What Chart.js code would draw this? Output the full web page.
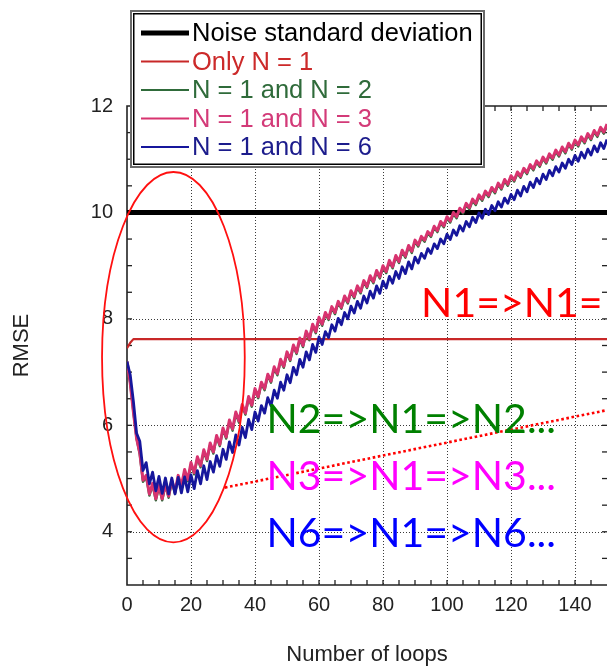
<!DOCTYPE html>
<html>
<head>
<meta charset="utf-8">
<script src="https://cdn.jsdelivr.net/npm/chart.js@4.4.1/dist/chart.umd.min.js"></script>
<style>
  html, body { margin: 0; padding: 0; background: #ffffff; }
  #wrap { width: 607px; height: 668px; position: relative; }
</style>
</head>
<body>
<div id="wrap"><canvas id="chart" width="607" height="668"></canvas></div>
<script>
// Loop index (x axis categories)
const loops = Array.from({ length: 151 }, (_, i) => i);

// RMSE per loop for each training schedule
const rmseN1N2 = [
  7.20, 6.80, 6.25, 5.75, 5.45, 4.94, 5.03, 4.68, 4.88, 4.59,
  4.84, 4.59, 4.87, 4.64, 4.94, 4.72, 5.03, 4.83, 5.14, 4.95,
  5.27, 5.08, 5.38, 5.21, 5.51, 5.33, 5.64, 5.47, 5.78, 5.61,
  5.92, 5.75, 6.07, 5.90, 6.22, 6.05, 6.36, 6.20, 6.51, 6.35,
  6.66, 6.51, 6.78, 6.66, 6.93, 6.80, 7.07, 6.94, 7.21, 7.08,
  7.35, 7.21, 7.48, 7.34, 7.61, 7.47, 7.74, 7.60, 7.87, 7.73,
  8.00, 7.87, 8.09, 7.98, 8.20, 8.09, 8.30, 8.19, 8.40, 8.29,
  8.50, 8.39, 8.59, 8.48, 8.69, 8.58, 8.78, 8.67, 8.88, 8.76,
  8.97, 8.86, 9.07, 8.95, 9.16, 9.05, 9.26, 9.15, 9.35, 9.24,
  9.45, 9.36, 9.52, 9.45, 9.61, 9.54, 9.71, 9.63, 9.80, 9.72,
  9.89, 9.81, 9.97, 9.89, 10.05, 9.98, 10.14, 10.06, 10.22, 10.14,
  10.30, 10.22, 10.37, 10.29, 10.44, 10.36, 10.52, 10.43, 10.59, 10.50,
  10.66, 10.58, 10.73, 10.65, 10.80, 10.72, 10.87, 10.79, 10.94, 10.86,
  11.01, 10.92, 11.07, 10.99, 11.14, 11.05, 11.20, 11.11, 11.27, 11.18,
  11.33, 11.24, 11.39, 11.30, 11.45, 11.36, 11.51, 11.42, 11.57, 11.48,
  11.63
];

const rmseN1N3 = [
  7.20, 6.80, 6.25, 5.75, 5.48, 4.97, 5.06, 4.71, 4.91, 4.62,
  4.87, 4.62, 4.90, 4.67, 4.97, 4.75, 5.06, 4.86, 5.17, 4.98,
  5.30, 5.11, 5.41, 5.24, 5.54, 5.36, 5.67, 5.50, 5.81, 5.64,
  5.95, 5.78, 6.10, 5.93, 6.25, 6.08, 6.39, 6.23, 6.54, 6.38,
  6.69, 6.54, 6.81, 6.69, 6.96, 6.83, 7.10, 6.97, 7.24, 7.11,
  7.38, 7.24, 7.51, 7.37, 7.64, 7.50, 7.77, 7.63, 7.90, 7.76,
  8.03, 7.90, 8.12, 8.01, 8.23, 8.12, 8.33, 8.22, 8.43, 8.32,
  8.53, 8.42, 8.62, 8.51, 8.72, 8.61, 8.81, 8.70, 8.91, 8.79,
  9.00, 8.89, 9.10, 8.98, 9.19, 9.08, 9.29, 9.18, 9.38, 9.27,
  9.48, 9.39, 9.55, 9.48, 9.64, 9.57, 9.74, 9.66, 9.83, 9.75,
  9.92, 9.84, 10.00, 9.92, 10.08, 10.01, 10.17, 10.09, 10.25, 10.17,
  10.33, 10.25, 10.40, 10.32, 10.47, 10.39, 10.55, 10.46, 10.62, 10.53,
  10.69, 10.61, 10.76, 10.68, 10.83, 10.75, 10.90, 10.82, 10.97, 10.89,
  11.04, 10.95, 11.10, 11.02, 11.17, 11.08, 11.23, 11.14, 11.30, 11.21,
  11.36, 11.27, 11.42, 11.33, 11.48, 11.39, 11.54, 11.45, 11.60, 11.51,
  11.66
];

const rmseN1N6 = [
  7.20, 6.95, 6.45, 5.85, 5.70, 5.15, 5.30, 4.90, 5.12, 4.77,
  5.04, 4.72, 5.01, 4.71, 5.01, 4.71, 5.02, 4.73, 5.03, 4.75,
  5.07, 4.81, 5.15, 4.90, 5.24, 4.98, 5.32, 5.12, 5.43, 5.23,
  5.55, 5.36, 5.69, 5.49, 5.82, 5.63, 5.96, 5.77, 6.11, 5.92,
  6.25, 6.08, 6.37, 6.23, 6.52, 6.37, 6.66, 6.51, 6.81, 6.66,
  6.95, 6.80, 7.09, 6.95, 7.24, 7.09, 7.38, 7.23, 7.52, 7.37,
  7.66, 7.52, 7.76, 7.65, 7.89, 7.77, 8.01, 7.89, 8.12, 8.00,
  8.24, 8.11, 8.33, 8.20, 8.43, 8.30, 8.52, 8.39, 8.62, 8.48,
  8.71, 8.58, 8.80, 8.67, 8.89, 8.76, 8.98, 8.85, 9.07, 8.94,
  9.16, 9.05, 9.23, 9.14, 9.32, 9.23, 9.41, 9.32, 9.50, 9.41,
  9.59, 9.49, 9.67, 9.57, 9.75, 9.65, 9.83, 9.73, 9.91, 9.81,
  9.99, 9.89, 10.06, 9.96, 10.13, 10.03, 10.20, 10.10, 10.27, 10.17,
  10.34, 10.24, 10.42, 10.31, 10.49, 10.39, 10.57, 10.47, 10.64, 10.54,
  10.72, 10.62, 10.79, 10.69, 10.86, 10.76, 10.93, 10.83, 11.00, 10.90,
  11.07, 10.96, 11.13, 11.02, 11.19, 11.08, 11.25, 11.14, 11.31, 11.20,
  11.37
];

// "Only N = 1": settles after two loops and stays flat
const onlyN1Loops = [0, 1, 2, 150];
const onlyN1Rmse  = [7.45, 7.55, 7.62, 7.62];

// Noise standard deviation (constant reference level)
const noiseLoops = [0, 150];
const noiseRmse  = [10, 10];

// Axis ticks
const xTickValues = [0, 20, 40, 60, 80, 100, 120, 140];
const yTickValues = [4, 6, 8, 10, 12];

// Series labels (legend order)
const seriesLabels = ['Noise standard deviation', 'Only N = 1', 'N = 1 and N = 2', 'N = 1 and N = 3', 'N = 1 and N = 6'];

// Schedule annotations
const scheduleNotes = ['N1=>N1=>N1...', 'N2=>N1=>N2...', 'N3=>N1=>N3...', 'N6=>N1=>N6...'];

const COLORS = {
  noise: '#000000',
  n1:    '#c82828',
  n2:    '#2f6b3a',
  n3:    '#d8336f',
  n6:    '#16169c'
};
const LEGEND_TEXT = ['#000000', '#cc2a2a', '#2f6b3a', '#d33a78', '#1c1c8c'];
const NOTE_COLORS = ['#ff0000', '#008000', '#ff00ff', '#0000ff'];

const pts = (xs, ys) => xs.map((x, i) => ({ x: x, y: ys[i] }));

const AXIS_FONT = 'Liberation Sans';

// Frame, dotted grid and inward minor ticks
const framePlugin = {
  id: 'frame',
  beforeDatasetsDraw(chart) {
    const { ctx, chartArea: a, scales: { x, y } } = chart;
    ctx.save();
    // dotted grid
    ctx.strokeStyle = '#3a3a3a';
    ctx.lineWidth = 1;
    ctx.setLineDash([1, 2]);
    for (let v = 20; v <= 140; v += 20) {
      const px = Math.round(x.getPixelForValue(v)) + 0.5;
      ctx.beginPath(); ctx.moveTo(px, a.top); ctx.lineTo(px, a.bottom); ctx.stroke();
    }
    for (let v = 4; v <= 10; v += 2) {
      const py = Math.round(y.getPixelForValue(v)) + 0.5;
      ctx.beginPath(); ctx.moveTo(a.left, py); ctx.lineTo(a.right, py); ctx.stroke();
    }
    ctx.setLineDash([]);
    // ticks
    ctx.strokeStyle = '#222';
    ctx.lineWidth = 1.3;
    for (let v = 5; v < 150; v += 5) {
      const px = x.getPixelForValue(v);
      ctx.beginPath(); ctx.moveTo(px, a.bottom); ctx.lineTo(px, a.bottom - 5); ctx.stroke();
      ctx.beginPath(); ctx.moveTo(px, a.top); ctx.lineTo(px, a.top + 5); ctx.stroke();
    }
    for (let v = 3.5; v < 12; v += 0.5) {
      const py = y.getPixelForValue(v);
      ctx.beginPath(); ctx.moveTo(a.left, py); ctx.lineTo(a.left + 5, py); ctx.stroke();
      ctx.beginPath(); ctx.moveTo(a.right, py); ctx.lineTo(a.right - 5, py); ctx.stroke();
    }
    // axes lines (left, bottom, top)
    ctx.lineWidth = 1.6;
    ctx.beginPath();
    ctx.moveTo(a.right, a.top); ctx.lineTo(a.left, a.top);
    ctx.lineTo(a.left, a.bottom); ctx.lineTo(a.right, a.bottom);
    ctx.stroke();
    ctx.restore();
  }
};

// Ellipse around the early minimum, pointer line, schedule notes and legend box
const overlayPlugin = {
  id: 'overlay',
  afterDatasetsDraw(chart) {
    const { ctx, scales: { x, y } } = chart;
    ctx.save();

    // ellipse around the early-loop region
    const cx = x.getPixelForValue(14.5), cy = y.getPixelForValue(7.28);
    const rx = x.getPixelForValue(14.5 + 22.3) - cx;
    const ry = cy - y.getPixelForValue(7.28 + 3.48);
    ctx.strokeStyle = '#ff1010';
    ctx.lineWidth = 1.8;
    ctx.beginPath();
    ctx.ellipse(cx, cy, rx, ry, 0, 0, Math.PI * 2);
    ctx.stroke();

    // dotted pointer from the ellipse to the right
    ctx.strokeStyle = '#ff0000';
    ctx.lineWidth = 2.6;
    ctx.setLineDash([2.6, 2.6]);
    ctx.beginPath();
    ctx.moveTo(x.getPixelForValue(30.6), y.getPixelForValue(4.83));
    ctx.lineTo(x.getPixelForValue(152), y.getPixelForValue(6.31));
    ctx.stroke();
    ctx.setLineDash([]);

    // schedule notes
    ctx.font = '41px Lato';
    ctx.textBaseline = 'alphabetic';
    ctx.textAlign = 'left';
    const noteAnchors = [[91.9, 8.04], [43.6, 5.86], [43.6, 4.79], [43.6, 3.72]];
    scheduleNotes.forEach((t, i) => {
      ctx.fillStyle = NOTE_COLORS[i];
      ctx.fillText(t, x.getPixelForValue(noteAnchors[i][0]), y.getPixelForValue(noteAnchors[i][1]));
    });

    // legend box
    const L = 130, T = 10, R = 485, B = 168;
    ctx.fillStyle = '#ffffff';
    ctx.fillRect(L, T, R - L, B - T);
    ctx.strokeStyle = '#6a6a6a';
    ctx.lineWidth = 2;
    ctx.strokeRect(L + 1, T + 1, R - L - 2, B - T - 2);
    ctx.strokeStyle = '#000000';
    ctx.lineWidth = 1.5;
    ctx.strokeRect(L + 3.75, T + 3.75, R - L - 7.5, B - T - 7.5);

    const rowY = [33, 61.5, 90, 118.5, 147];
    const widths = [5, 2, 2, 2, 2];
    ctx.font = '25.5px "Liberation Sans"';
    ctx.textBaseline = 'middle';
    chart.data.datasets.forEach((ds, i) => {
      ctx.strokeStyle = ds.borderColor;
      ctx.lineWidth = widths[i];
      ctx.beginPath();
      ctx.moveTo(141, rowY[i]); ctx.lineTo(189, rowY[i]);
      ctx.stroke();
      ctx.fillStyle = LEGEND_TEXT[i];
      ctx.fillText(ds.label, 192, rowY[i] + 1);
    });
    ctx.restore();
  }
};

new Chart(document.getElementById('chart'), {
  type: 'line',
  data: {
    datasets: [
      { label: seriesLabels[0], data: pts(noiseLoops, noiseRmse), borderColor: COLORS.noise, borderWidth: 5, order: 4 },
      { label: seriesLabels[1], data: pts(onlyN1Loops, onlyN1Rmse), borderColor: COLORS.n1, borderWidth: 2.2, order: 3 },
      { label: seriesLabels[2], data: pts(loops, rmseN1N2), borderColor: COLORS.n2, borderWidth: 2.4, order: 2 },
      { label: seriesLabels[3], data: pts(loops, rmseN1N3), borderColor: COLORS.n3, borderWidth: 3, order: 1 },
      { label: seriesLabels[4], data: pts(loops, rmseN1N6), borderColor: COLORS.n6, borderWidth: 2.8, order: 0 }
    ]
  },
  options: {
    responsive: false,
    animation: false,
    devicePixelRatio: 1,
    layout: { padding: { top: 106, right: 0, left: 0, bottom: 0 } },
    elements: {
      point: { radius: 0, hoverRadius: 0 },
      line: { tension: 0, fill: false, borderJoinStyle: 'round' }
    },
    plugins: {
      legend: { display: false },
      tooltip: { enabled: false }
    },
    scales: {
      x: {
        type: 'linear',
        min: 0,
        max: 150,
        afterBuildTicks: s => { s.ticks = xTickValues.map(v => ({ value: v })); },
        afterFit: s => { s.height = 83; },
        grid: { display: false, drawTicks: false },
        border: { display: false },
        ticks: {
          autoSkip: false, maxRotation: 0, padding: 8, color: '#222',
          font: { family: AXIS_FONT, size: 20 }
        },
        title: {
          display: true, text: 'Number of loops', color: '#222',
          font: { family: AXIS_FONT, size: 22 }, padding: { top: 0, bottom: 0 }
        }
      },
      y: {
        type: 'linear',
        min: 3,
        max: 12,
        afterBuildTicks: s => { s.ticks = yTickValues.map(v => ({ value: v })); },
        afterFit: s => { s.width = 127; },
        grid: { display: false, drawTicks: false },
        border: { display: false },
        ticks: {
          padding: 14, color: '#222',
          font: { family: AXIS_FONT, size: 20 }
        },
        title: {
          display: true, text: 'RMSE', color: '#222',
          font: { family: AXIS_FONT, size: 22 }, padding: { top: 9, bottom: 0 }
        }
      }
    }
  },
  plugins: [framePlugin, overlayPlugin]
});
</script>
</body>
</html>
